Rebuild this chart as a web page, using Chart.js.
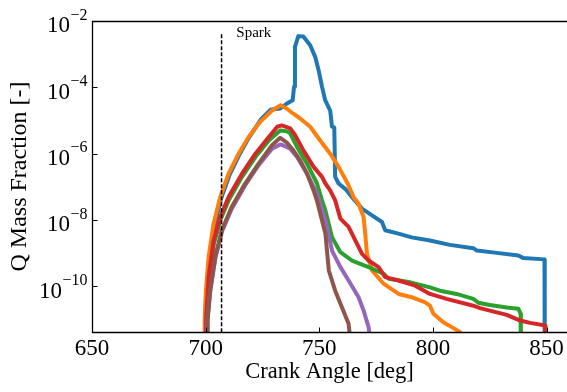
<!DOCTYPE html>
<html lang="en">
<head>
<meta charset="UTF-8">
<title>Q Mass Fraction vs Crank Angle</title>
<style>
  html, body { margin: 0; padding: 0; background: #fff; }
  #chart { display: block; }
</style>
</head>
<body>
<canvas id="chart" width="567" height="392"></canvas>
<script src="https://cdn.jsdelivr.net/npm/chart.js@4.4.0/dist/chart.umd.min.js"></script>
<script>
// Q mass fraction against crank angle, six cases
var blueAngle = [699.5, 699.7, 700.3, 701.6, 703.8, 706.7, 710.4, 714.7, 719, 724.5, 728.5, 732.8, 735.6, 738.3, 738.9, 739.3, 740.8, 743, 746, 748.2, 749.7, 751.2, 752.6, 754.8, 755.6, 756.6, 757, 758.5, 761.4, 764.4, 768.8, 773.2, 777.6, 779, 784.8, 790.7, 798.7, 807.5, 817.8, 819.3, 828.1, 837.6, 839.8, 849.1, 849.2];
var blueQ = [1e-12, 1e-11, 6.3e-11, 6.3e-10, 6.3e-9, 4.2e-8, 2.2e-7, 8.9e-7, 3.0e-6, 1.12e-5, 2.1e-5, 2.3e-5, 3.2e-5, 4.1e-5, 1.05e-4, 1.66e-3, 3.5e-3, 3.4e-3, 1.86e-3, 8.3e-4, 3.3e-4, 1.05e-4, 4.1e-5, 2.0e-5, 6.5e-6, 6.2e-6, 2.0e-7, 1.26e-7, 8.7e-8, 4.9e-8, 2.2e-8, 1.38e-8, 8.7e-9, 4.9e-9, 3.9e-9, 3.0e-9, 2.4e-9, 1.78e-9, 1.41e-9, 1.2e-9, 1.02e-9, 8.5e-10, 7.1e-10, 6.5e-10, 1e-13];

var orangeAngle = [699.4, 699.6, 700.1, 701.3, 703.5, 706.4, 710.1, 714.5, 718.9, 724, 729.2, 733, 735.6, 738.6, 741.6, 746, 750.4, 754.8, 758.5, 762.5, 765.1, 767.3, 769.5, 770.2, 771, 773.2, 778.3, 784.9, 790.7, 796.6, 798.7, 800.2, 804.6, 808.3, 811.9, 813];
var orangeQ = [1e-12, 1e-11, 7.4e-11, 7.6e-10, 7.8e-9, 4.9e-8, 2.5e-7, 1.0e-6, 3.2e-6, 9.1e-6, 2.0e-5, 2.9e-5, 2.3e-5, 1.6e-5, 1.15e-5, 6.5e-6, 2.5e-6, 1.0e-6, 4.0e-7, 1.26e-7, 4.9e-8, 3.1e-8, 1.23e-8, 3.9e-9, 9.5e-10, 3.0e-10, 1.2e-10, 5.9e-11, 4.7e-11, 3.3e-11, 2.6e-11, 1.5e-11, 8.3e-12, 5.9e-12, 4.2e-12, 2e-12];

var greenAngle = [700, 700.4, 701.6, 703.6, 706.5, 710.2, 716, 721.9, 727.8, 732.8, 735.8, 737.2, 740.2, 744.6, 749, 751.2, 752.7, 755.6, 759.3, 764.4, 771.7, 778.3, 780.5, 789.3, 798.7, 803.1, 810.4, 817.8, 820, 825.1, 832.5, 837.6, 838.6, 838.7];
var greenQ = [1e-12, 1e-11, 1.4e-10, 1.9e-9, 1.0e-8, 4.0e-8, 2.0e-7, 7.9e-7, 2.5e-6, 5.0e-6, 4.7e-6, 4.1e-6, 1.6e-6, 5.0e-7, 1.26e-7, 3.9e-8, 1.95e-8, 3.0e-9, 1.07e-9, 6.0e-10, 3.8e-10, 2.4e-10, 1.7e-10, 1.35e-10, 9.3e-11, 7.4e-11, 5.9e-11, 4.2e-11, 3.2e-11, 2.75e-11, 2.3e-11, 2.1e-11, 1.5e-11, 1e-13];

var redAngle = [700, 700.2, 701.3, 703.5, 706.4, 710.1, 716, 721.9, 727.8, 731.5, 733.5, 737.2, 739.4, 743, 747.5, 751.2, 752.7, 754.8, 757, 759.3, 762.9, 765.9, 768.8, 771.7, 776.1, 779, 784.9, 792.2, 798.7, 806, 817.8, 820.7, 832.5, 838.4, 842.8, 849.4, 849.5];
var redQ = [1e-12, 1e-11, 1.9e-10, 2.4e-9, 1.23e-8, 4.9e-8, 2.5e-7, 1.0e-6, 3.2e-6, 6.5e-6, 7.1e-6, 5.8e-6, 3.6e-6, 1.26e-6, 4.0e-7, 2.0e-7, 1.26e-7, 7.8e-8, 3.9e-8, 1.1e-8, 6.2e-9, 2.4e-9, 9.5e-10, 6.0e-10, 3.8e-10, 1.9e-10, 1.5e-10, 1.05e-10, 5.9e-11, 4.2e-11, 2.6e-11, 2.2e-11, 1.38e-11, 9.3e-12, 7.9e-12, 6.6e-12, 1e-13];

var purpleAngle = [700.5, 700.8, 702.1, 704.3, 707.2, 711.5, 717.4, 723.3, 729.2, 732.8, 734, 737.2, 740.2, 744.6, 749, 752.7, 755.6, 759.3, 762.9, 767.3, 769.5, 771.7, 772.6];
var purpleQ = [1e-12, 1e-11, 7.9e-11, 7.1e-10, 4.5e-9, 2.2e-8, 1.12e-7, 4.5e-7, 1.4e-6, 1.9e-6, 1.8e-6, 1.4e-6, 7.9e-7, 2.5e-7, 6.2e-8, 9.8e-9, 1.2e-9, 3.8e-10, 1.5e-10, 4.7e-11, 1.86e-11, 5.9e-12, 2e-12];

var brownAngle = [700.6, 700.9, 702, 704.2, 707.1, 711.5, 717.4, 723.3, 729.2, 732.8, 735.6, 738.6, 741.6, 744.6, 747.5, 749, 751.9, 752.7, 754.2, 757, 760, 762.9, 763.8];
var brownQ = [1e-12, 1e-11, 7.4e-11, 7.6e-10, 4.9e-9, 2.5e-8, 1.26e-7, 5.0e-7, 1.8e-6, 3.0e-6, 2.2e-6, 1.26e-6, 6.3e-7, 2.5e-7, 7.8e-8, 3.8e-8, 6.3e-9, 3.9e-9, 3.0e-10, 7.4e-11, 2.3e-11, 7.4e-12, 2e-12];

// spark timing marker
var sparkAngle = [707, 707];
var sparkQ = [4.0e-3, 1e-13];

var xTicks = [650, 700, 750, 800, 850];
var yTickExp = [-2, -4, -6, -8, -10];

function pts(xs, ys) {
    return xs.map(function (x, i) { return {x: x, y: ys[i]}; });
}

function series(xs, ys, color, order) {
    return {
        data: pts(xs, ys),
        borderColor: color,
        borderWidth: 4,
        borderJoinStyle: 'round',
        pointRadius: 0,
        tension: 0,
        clip: 0,
        order: order
    };
}

var serif = '"Liberation Serif", "Times New Roman", serif';

// matplotlib-ish frame: spines, inward ticks, 10^n labels, spark note
var frame = {
    id: 'frame',
    afterDraw: function (chart) {
        var ctx = chart.ctx, a = chart.chartArea;
        var xs = chart.scales.x, ys = chart.scales.y;
        var l = Math.round(a.left) + 0.5, t = Math.round(a.top) + 0.5, b = Math.round(a.bottom) + 0.5;
        ctx.save();
        ctx.strokeStyle = '#000';
        ctx.lineWidth = 1.3;
        ctx.beginPath();
        ctx.moveTo(a.right + 2, t);
        ctx.lineTo(l, t);
        ctx.lineTo(l, b);
        ctx.lineTo(a.right + 2, b);
        ctx.stroke();

        ctx.lineWidth = 1;
        xTicks.forEach(function (v) {
            var px = Math.round(xs.getPixelForValue(v)) + 0.5;
            ctx.beginPath();
            ctx.moveTo(px, b);
            ctx.lineTo(px, b - 5);
            ctx.stroke();
        });

        ctx.fillStyle = '#000';
        ctx.textAlign = 'right';
        ctx.textBaseline = 'alphabetic';
        yTickExp.forEach(function (e) {
            var py = ys.getPixelForValue(Math.pow(10, e));
            var ty = Math.round(py) + 0.5;
            ctx.beginPath();
            ctx.moveTo(l, ty);
            ctx.lineTo(l + 5, ty);
            ctx.stroke();

            var exp = '\u2212' + Math.abs(e);
            ctx.font = '16px ' + serif;
            var ew = ctx.measureText(exp).width;
            ctx.fillText(exp, a.left - 4.5, py - 1.5);
            ctx.font = '23px ' + serif;
            ctx.fillText('10', a.left - 4.5 - ew - 0.5, py + 11.3);
        });

        ctx.textAlign = 'left';
        ctx.font = '15px ' + serif;
        ctx.fillText('Spark', xs.getPixelForValue(713.5), ys.getPixelForValue(3.4e-3));
        ctx.restore();
    }
};

new Chart(document.getElementById('chart'), {
    type: 'line',
    data: {
        datasets: [
            {
                data: pts(sparkAngle, sparkQ),
                borderColor: '#000',
                borderWidth: 1.5,
                borderDash: [4, 2],
                pointRadius: 0,
                clip: 0,
                order: 0
            },
            series(blueAngle, blueQ, '#1f77b4', 6),
            series(orangeAngle, orangeQ, '#ff7f0e', 5),
            series(greenAngle, greenQ, '#2ca02c', 4),
            series(redAngle, redQ, '#d62728', 3),
            series(purpleAngle, purpleQ, '#9467bd', 2),
            series(brownAngle, brownQ, '#8c564b', 1)
        ]
    },
    options: {
        responsive: false,
        animation: false,
        devicePixelRatio: 1,
        layout: { padding: { top: 21, left: 0, right: 0, bottom: 0 } },
        plugins: { legend: { display: false }, tooltip: { enabled: false } },
        scales: {
            x: {
                type: 'linear',
                min: 650,
                max: 859,
                afterBuildTicks: function (scale) {
                    scale.ticks = xTicks.map(function (v) { return {value: v}; });
                },
                afterFit: function (scale) { scale.height = 60; },
                grid: { display: false, drawTicks: false },
                border: { display: false },
                ticks: {
                    color: '#000',
                    font: { family: serif, size: 23 },
                    padding: 3,
                    maxRotation: 0,
                    autoSkip: false
                },
                title: {
                    display: true,
                    text: 'Crank Angle [deg]',
                    color: '#000',
                    font: { family: serif, size: 22.5 },
                    padding: { top: 0, bottom: 6 }
                }
            },
            y: {
                type: 'logarithmic',
                min: 4.2e-12,
                max: 1e-2,
                afterBuildTicks: function (scale) {
                    scale.ticks = yTickExp.map(function (e) { return {value: Math.pow(10, e)}; });
                },
                afterFit: function (scale) { scale.width = 92; },
                grid: { display: false, drawTicks: false },
                border: { display: false },
                ticks: { display: false },
                title: {
                    display: true,
                    text: 'Q Mass Fraction [-]',
                    color: '#000',
                    font: { family: serif, size: 24 },
                    padding: { top: 5.5, bottom: 0 }
                }
            }
        }
    },
    plugins: [frame]
});
</script>
</body>
</html>
